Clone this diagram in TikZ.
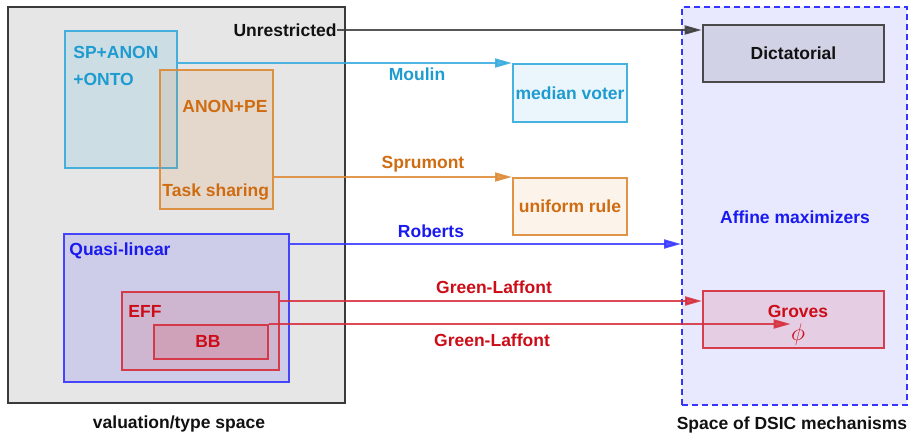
\documentclass[tikz,border=0pt]{standalone}
\usepackage{fontspec}
\setmainfont{Liberation Sans}
\usepackage{tikz}
\usetikzlibrary{arrows.meta,positioning,calc,fit}
\definecolor{cInk}{HTML}{111111}
\definecolor{cFrame}{HTML}{3A3A3A}
\definecolor{cShade}{HTML}{E6E6E6}
\definecolor{cCyan}{HTML}{33AADD}
\definecolor{cCyanT}{HTML}{1E9BD0}
\definecolor{cOrange}{HTML}{DD8833}
\definecolor{cOrangeT}{HTML}{CF6C12}
\definecolor{cBlue}{HTML}{3535FF}
\definecolor{cBlueT}{HTML}{1A1AF0}
\definecolor{cRed}{HTML}{D62D3A}
\definecolor{cRedT}{HTML}{CC0D18}
\definecolor{cLav}{HTML}{E8E8FF}
\tikzset{
  rbox/.style={draw=#1,fill=#1,fill opacity=0.14,draw opacity=0.9,text opacity=1,line width=1pt,inner sep=0pt},
  rbox/.default=cBlue,
  txt/.style={font=\fontsize{8.75}{10}\selectfont\bfseries,text=#1,inner sep=0pt},
  txt/.default=cInk,
  arr/.style={-{Triangle[length=8.5pt,width=4.5pt]},line width=1pt,draw=#1,draw opacity=0.85,fill opacity=0.85},
  arr/.default=cFrame,
}
\begin{document}
\begin{tikzpicture}[x=0.5pt,y=-0.5pt]
  \useasboundingbox (0,0) rectangle (912,434);
  % the two spaces
  \node[draw=cFrame,fill=cShade,line width=1.3pt,inner sep=0pt,fit={(8,7)(345,403)}] (val) {};
  \node[draw=cBlue,fill=cLav,line width=1pt,dash pattern=on 3pt off 2pt,inner sep=0pt,fit={(682,7)(907,405)}] (dsic) {};
  \node[txt] at (179,424) {valuation/type space};
  \node[txt] at (792,425) {Space of DSIC mechanisms};
  \node[txt=cBlueT] at (795,217) {Affine maximizers};
  % domains
  \node[rbox=cCyan,fit={(65,31)(177,168)}] (sp) {};
  \node[rbox=cOrange,fit={(160,70)(273,209)}] (ap) {};
  \node[rbox=cBlue,fit={(64,234)(289,382)}] (ql) {};
  \node[rbox=cRed,fit={(122,292)(279,370)}] (eff) {};
  \node[rbox=cRed,fit={(154,325)(268,359)}] (bb) {};
  \node[txt,anchor=east] (unr) at (337,30) {Unrestricted};
  \node[txt=cCyanT,anchor=west] at (73,52) {SP+ANON};
  \node[txt=cCyanT,anchor=west] at (73,79) {+ONTO};
  \node[txt=cOrangeT,anchor=west] at (182,106) {ANON+PE};
  \node[txt=cOrangeT,anchor=west] at (162,192) {Task sharing};
  \node[txt=cBlueT,anchor=west] at (69,251) {Quasi-linear};
  \node[txt=cRedT,anchor=west] at (128,311) {EFF};
  \node[txt=cRedT] at (208,341) {BB};
  % mechanisms
  \node[rbox=cFrame,line width=1.3pt,fill opacity=0.12,fit={(703,25)(884,82)}] (dict) {};
  \node[rbox=cCyan,fill opacity=0.1,fit={(513,64)(627,122)}] (mv) {};
  \node[rbox=cOrange,fill opacity=0.1,fit={(513,178)(627,235)}] (ur) {};
  \node[rbox=cRed,fill opacity=0.14,fit={(703,291)(884,348)}] (gro) {};
  \node[txt] at (dict) {Dictatorial};
  \node[txt=cCyanT] at (mv) {median voter};
  \node[txt=cOrangeT] at (ur) {uniform rule};
  \node[txt=cRedT] at (798,311) {Groves};
  \node[inner sep=0pt,text=cRedT,font=\fontsize{11.5}{12}\selectfont] (phi) at (798,334) {$\phi$};
  % characterizations
  \draw[arr] (unr.east) -- (unr.east -| dict.west);
  \draw[arr=cCyan] (sp.east |- mv.north west) -- (mv.north west);
  \draw[arr=cOrange] (ap.east |- ur.north west) -- (ur.north west);
  \draw[arr=cBlue] ([yshift=-5.5pt]ql.north east) -- ([yshift=-5.5pt]ql.north east -| dsic.west);
  \draw[arr=cRed] ([yshift=-5pt]eff.north east) -- ([yshift=-5pt]eff.north east -| gro.west);
  \draw[arr=cRed] (bb.north east) -- (bb.north east -| phi.west);
  \node[txt=cCyanT] at (417,74) {Moulin};
  \node[txt=cOrangeT] at (423,164) {Sprumont};
  \node[txt=cBlueT] at (431,231) {Roberts};
  \node[txt=cRedT] at (494,287) {Green-Laffont};
  \node[txt=cRedT] at (492,340) {Green-Laffont};
\end{tikzpicture}
\end{document}
